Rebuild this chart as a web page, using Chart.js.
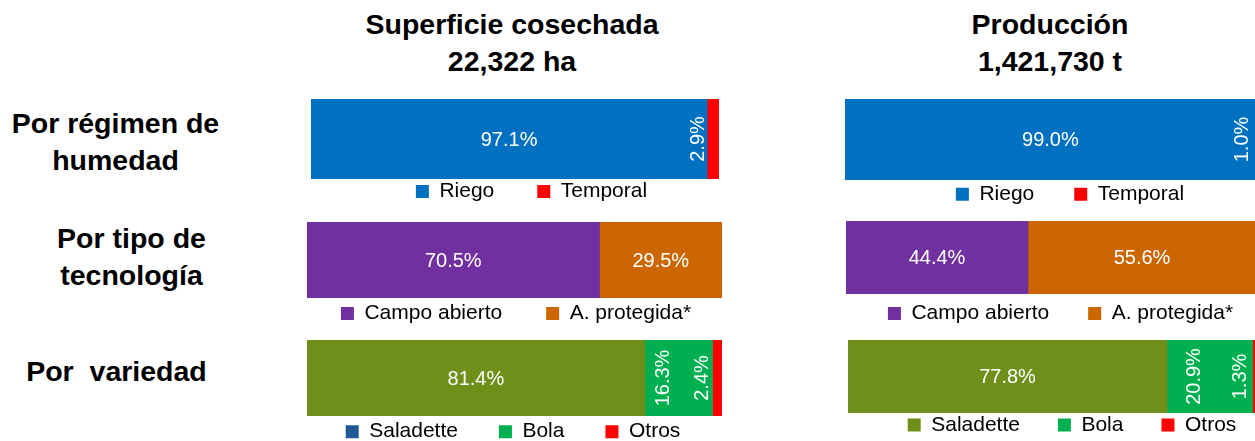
<!DOCTYPE html>
<html>
<head>
<meta charset="utf-8">
<script src="https://cdn.jsdelivr.net/npm/chart.js"></script>
<style>
html, body { margin: 0; padding: 0; width: 1255px; height: 441px; overflow: hidden; background: #ffffff; }
.txt { position: absolute; font-family: 'Liberation Sans', Arial, sans-serif; font-weight: bold; font-size: 28.5px; line-height: 37px; color: #000; text-align: center; white-space: pre; }
canvas { position: absolute; }
</style>
</head>
<body>
<script>
// ---------- DATA ----------
const panelTitles = ['Superficie cosechada\n22,322 ha', 'Producción\n1,421,730 t'];
const rowTitles = ['Por régimen de\nhumedad', 'Por tipo de\ntecnología', 'Por  variedad'];

const humedadSeries = ['Riego', 'Temporal'];
const tecnologiaSeries = ['Campo abierto', 'A. protegida*'];
const variedadSeries = ['Saladette', 'Bola', 'Otros'];

const superficieHumedad = [97.1, 2.9];
const superficieTecnologia = [70.5, 29.5];
const superficieVariedad = [81.4, 16.3, 2.4];

const produccionHumedad = [99.0, 1.0];
const produccionTecnologia = [44.4, 55.6];
const produccionVariedad = [77.8, 20.9, 1.3];

// ---------- STYLES ----------
const humedadColors = ['#0070C0', '#FF0000'];
const tecnologiaColors = ['#7030A0', '#CC6600'];
const variedadColors = ['#6E901A', '#00B050', '#FF0000'];
const variedadLegendLeft = ['#1F5A94', '#00B050', '#FF0000'];
const FONT = "'Liberation Sans', Arial, sans-serif";
const LEGEND_SIZE = 21;

// layout of each panel: bar box [left, right, top, height], legend centre x, item spacing, gap bar->legend centre
const panels = [
  { values: superficieHumedad, names: humedadSeries, colors: humedadColors, legendColors: humedadColors,
    bar: [311, 719, 99, 80], legendX: 531.6, pad: 43, gap: 12.5 },
  { values: superficieTecnologia, names: tecnologiaSeries, colors: tecnologiaColors, legendColors: tecnologiaColors,
    bar: [307, 722, 222, 76], legendX: 516, pad: 44, gap: 15.5 },
  { values: superficieVariedad, names: variedadSeries, colors: variedadColors, legendColors: variedadLegendLeft,
    bar: [307, 722, 340, 76], legendX: 513, pad: 41, gap: 15.7 },
  { values: produccionHumedad, names: humedadSeries, colors: humedadColors, legendColors: humedadColors,
    bar: [845, 1260, 99, 81], legendX: 1070, pad: 40, gap: 14.3 },
  { values: produccionTecnologia, names: tecnologiaSeries, colors: tecnologiaColors, legendColors: tecnologiaColors,
    bar: [846, 1256, 221, 73], legendX: 1060.5, pad: 39, gap: 19.5 },
  { values: produccionVariedad, names: variedadSeries, colors: variedadColors, legendColors: variedadColors,
    bar: [848, 1258, 340, 73], legendX: 1072, pad: 38, gap: 12 }
];

// ---------- TEXT ----------
function addText(str, cx, top) {
  const d = document.createElement('div');
  d.className = 'txt';
  d.textContent = str;
  d.style.left = (cx - 250) + 'px';
  d.style.width = '500px';
  d.style.top = top + 'px';
  document.body.appendChild(d);
}
addText(panelTitles[0], 512, 6);
addText(panelTitles[1], 1050, 6);
addText(rowTitles[0], 115.5, 104.6);
addText(rowTitles[1], 131.5, 220.4);
addText(rowTitles[2], 116.5, 353.3);

// ---------- PLUGINS ----------
const legendShift = {
  id: 'legendShift',
  afterLayout(chart, args, opts) {
    const lg = chart.legend;
    if (!lg) return;
    const P = lg.options.labels.padding;
    const current = lg.top + P + LEGEND_SIZE / 2;
    const desired = chart.chartArea.bottom + opts.gap;
    const dy = desired - current;
    lg.top += dy;
    lg.bottom += dy;
  }
};

const barLabels = {
  id: 'barLabels',
  afterDatasetsDraw(chart) {
    const ctx = chart.ctx;
    ctx.save();
    ctx.fillStyle = '#ffffff';
    ctx.font = '20px ' + FONT;
    ctx.textAlign = 'center';
    ctx.textBaseline = 'middle';
    chart.data.datasets.forEach((ds, i) => {
      const meta = chart.getDatasetMeta(i);
      meta.data.forEach((el, j) => {
        const v = ds.data[j];
        const w = Math.abs(el.x - el.base);
        const cx = (el.x + el.base) / 2;
        const txt = v.toFixed(1) + '%';
        if (w >= 100) {
          ctx.fillText(txt, cx, el.y + 1);
        } else {
          ctx.save();
          ctx.translate(cx - 15, el.y);
          ctx.rotate(-Math.PI / 2);
          ctx.fillText(txt, 0, 0);
          ctx.restore();
        }
      });
    });
    ctx.restore();
  }
};

// ---------- CHARTS ----------
panels.forEach(p => {
  const [left, right, top, h] = p.bar;
  const half = Math.max(p.legendX - left, right - p.legendX) + 40;
  const x0 = Math.round(p.legendX - half);
  const W = Math.round(2 * half);
  const leftGap = left - x0;
  const rightGap = x0 + W - right;
  const H = Math.round(h + 31 + p.pad);

  const cv = document.createElement('canvas');
  cv.width = W; cv.height = H;
  cv.style.left = x0 + 'px';
  cv.style.top = top + 'px';
  cv.style.width = W + 'px';
  cv.style.height = H + 'px';
  document.body.appendChild(cv);

  new Chart(cv, {
    type: 'bar',
    data: {
      labels: [''],
      datasets: p.names.map((n, i) => ({
        label: n,
        data: [p.values[i]],
        backgroundColor: p.colors[i],
        borderWidth: 0,
        barPercentage: 1,
        categoryPercentage: 1
      }))
    },
    options: {
      indexAxis: 'y',
      responsive: false,
      animation: false,
      devicePixelRatio: 1,
      layout: { padding: 0 },
      scales: {
        x: { type: 'linear', min: 0, max: 100, stacked: true, display: false },
        y: { type: 'category', stacked: true, display: true,
             grid: { display: false }, border: { display: false }, ticks: { display: false },
             afterFit: s => { s.width = leftGap; } },
        yr: { type: 'category', labels: [''], position: 'right', display: true,
              grid: { display: false }, border: { display: false }, ticks: { display: false },
              afterFit: s => { s.width = rightGap; } }
      },
      plugins: {
        tooltip: { enabled: false },
        title: { display: false },
        legendShift: { gap: p.gap },
        legend: {
          display: true,
          position: 'bottom',
          align: 'center',
          labels: {
            boxWidth: 13,
            boxHeight: 13,
            padding: p.pad,
            color: '#000000',
            font: { size: LEGEND_SIZE, family: FONT },
            generateLabels: chart => chart.data.datasets.map((ds, i) => ({
              text: ds.label,
              fillStyle: p.legendColors[i],
              strokeStyle: p.legendColors[i],
              lineWidth: 0,
              hidden: false,
              datasetIndex: i
            }))
          }
        }
      }
    },
    plugins: [legendShift, barLabels]
  });
});
</script>
</body>
</html>
